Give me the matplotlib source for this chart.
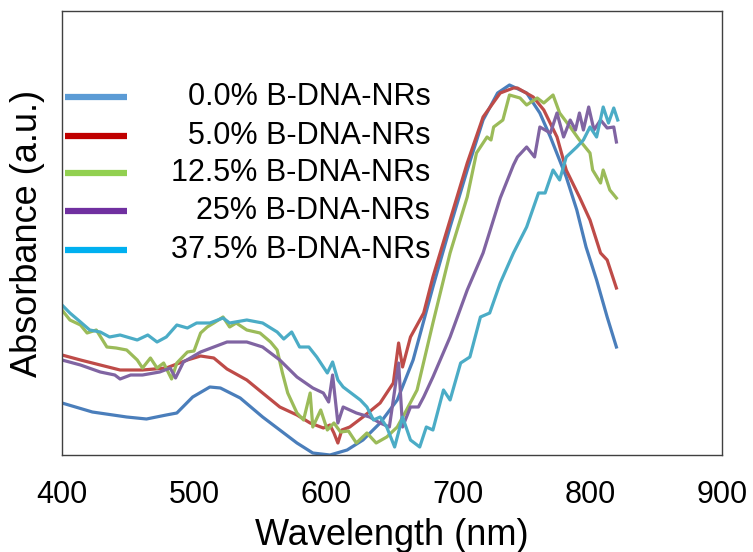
import matplotlib
matplotlib.use('Agg')
import matplotlib.pyplot as plt
from matplotlib.lines import Line2D

plt.rcParams['font.family'] = ['Liberation Sans', 'DejaVu Sans']

# ─── data (arbitrary absorbance units) ───────────────────────────────────────
labels = ['0.0% B-DNA-NRs', '5.0% B-DNA-NRs', '12.5% B-DNA-NRs',
          '25% B-DNA-NRs', '37.5% B-DNA-NRs']

wl_0 = [400, 423, 449, 464, 479, 487, 499, 512, 520, 535, 552, 565, 578, 590,
        603, 616, 628, 641, 654, 666, 681, 694, 707, 719, 730, 739, 752, 762,
        770, 782, 790, 797, 805, 813, 820]
ab_0 = [52, 43, 38, 36, 40, 42, 58, 68, 67, 57, 38, 25, 12, 2,
        0, 5, 15, 32, 55, 95, 168, 228, 285, 335, 362, 370, 362, 342,
        318, 278, 245, 208, 175, 138, 108]

wl_5 = [400, 414, 429, 444, 461, 479, 495, 505, 515, 525, 540, 552, 565, 578,
        588, 598, 603, 606, 609, 612, 618, 628, 641, 651, 655, 658, 664, 674,
        681, 694, 707, 719, 732, 742, 745, 757, 765, 775, 782, 792, 800, 808,
        813, 820]
ab_5 = [100, 95, 90, 85, 85, 87, 95, 99, 97, 86, 75, 62, 48, 40,
        32, 27, 30, 22, 12, 25, 28, 38, 52, 72, 112, 88, 118, 142,
        178, 235, 292, 338, 362, 367, 367, 358, 345, 318, 285, 258, 235, 202,
        195, 167]

wl_12 = [400, 406, 414, 419, 426, 434, 441, 449, 457, 461, 467, 472, 477, 483,
         487, 495, 500, 505, 510, 515, 522, 527, 532, 540, 550, 558, 563, 567,
         571, 578, 583, 588, 590, 596, 601, 606, 611, 617, 623, 631, 638, 646,
         654, 661, 669, 681, 694, 707, 714, 722, 725, 727, 734, 739, 747, 752,
         760, 765, 772, 777, 785, 792, 800, 802, 808, 810, 815, 820]
ab_12 = [145, 135, 130, 122, 125, 108, 107, 105, 95, 87, 97, 87, 92, 76,
         92, 103, 104, 122, 128, 132, 138, 128, 132, 125, 122, 113, 105, 82,
         62, 42, 35, 62, 28, 45, 25, 32, 23, 24, 12, 22, 12, 18,
         28, 45, 65, 132, 202, 258, 302, 318, 315, 328, 335, 360, 357, 350,
         357, 352, 360, 342, 328, 315, 302, 285, 272, 285, 265, 257]

wl_25 = [400, 414, 429, 440, 444, 452, 461, 474, 482, 486, 492, 505, 515, 525,
         540, 552, 565, 578, 590, 598, 602, 605, 609, 613, 623, 633, 641, 648,
         655, 658, 664, 670, 674, 681, 694, 707, 719, 732, 742, 745, 752, 758,
         762, 770, 775, 780, 785, 789, 792, 795, 799, 803, 808, 813, 818, 820]
ab_25 = [95, 90, 83, 80, 76, 80, 80, 83, 87, 77, 93, 103, 108, 113,
         113, 108, 95, 78, 67, 62, 53, 80, 32, 48, 42, 38, 32, 28,
         92, 28, 48, 48, 58, 78, 118, 165, 202, 257, 290, 298, 308, 298,
         328, 322, 342, 318, 335, 325, 342, 325, 348, 325, 335, 327, 328, 313]

wl_37 = [400, 406, 414, 421, 429, 436, 444, 457, 465, 472, 479, 487, 495, 502,
         512, 522, 527, 540, 552, 563, 568, 574, 580, 587, 593, 601, 605, 609,
         613, 619, 626, 631, 636, 641, 646, 652, 658, 664, 671, 676, 681, 689,
         694, 702, 709, 717, 724, 732, 742, 752, 761, 766, 772, 777, 782, 790,
         795, 800, 805, 810, 814, 818, 821]
ab_37 = [150, 142, 133, 125, 123, 118, 120, 115, 120, 113, 118, 130, 127, 132,
         132, 137, 132, 135, 132, 123, 116, 123, 108, 108, 98, 82, 93, 75,
         68, 62, 55, 48, 35, 38, 28, 8, 38, 15, 8, 28, 25, 65,
         55, 92, 98, 138, 142, 172, 202, 228, 262, 262, 285, 275, 298, 308,
         315, 328, 318, 348, 332, 347, 335]

series = [(wl_0, ab_0), (wl_5, ab_5), (wl_12, ab_12), (wl_25, ab_25), (wl_37, ab_37)]
line_colors = ['#4a7ebb', '#be4b48', '#9bbb59', '#8064a2', '#4bacc6']
legend_colors = ['#5b9bd5', '#c00000', '#92d050', '#7030a0', '#00b0f0']

# ─── plot ─────────────────────────────────────────────────────────────────────
fig = plt.figure(figsize=(7.53, 5.52), dpi=100)
ax = fig.add_axes([62 / 753, 97 / 552, 660 / 753, 444 / 552])

for (wl, ab), c in zip(series, line_colors):
    ax.plot(wl, ab, color=c, lw=2.3, solid_joinstyle='round')

ax.set_xlim(400, 900)
ax.set_ylim(0, 444)
ax.set_xticks([400, 500, 600, 700, 800, 900])
ax.set_yticks([])
ax.tick_params(axis='x', length=0, pad=18, labelsize=22)
for s in ax.spines.values():
    s.set_color('#404040')
    s.set_linewidth(1.0)

ax.set_xlabel('Wavelength (nm)', fontsize=26, labelpad=6)
ax.set_ylabel('Absorbance (a.u.)', fontsize=26, labelpad=12)

# legend drawn by hand: handles on the left, labels right-aligned
row_y = [0.806, 0.718, 0.635, 0.550, 0.462]
for y, c, lab in zip(row_y, legend_colors, labels):
    ax.add_line(Line2D([0.005, 0.098], [y, y], transform=ax.transAxes,
                       color=c, lw=4.5, solid_capstyle='butt'))
    ax.text(0.558, y, lab, transform=ax.transAxes, ha='right', va='center',
            fontsize=22)

fig.savefig('out.png', dpi=100)
